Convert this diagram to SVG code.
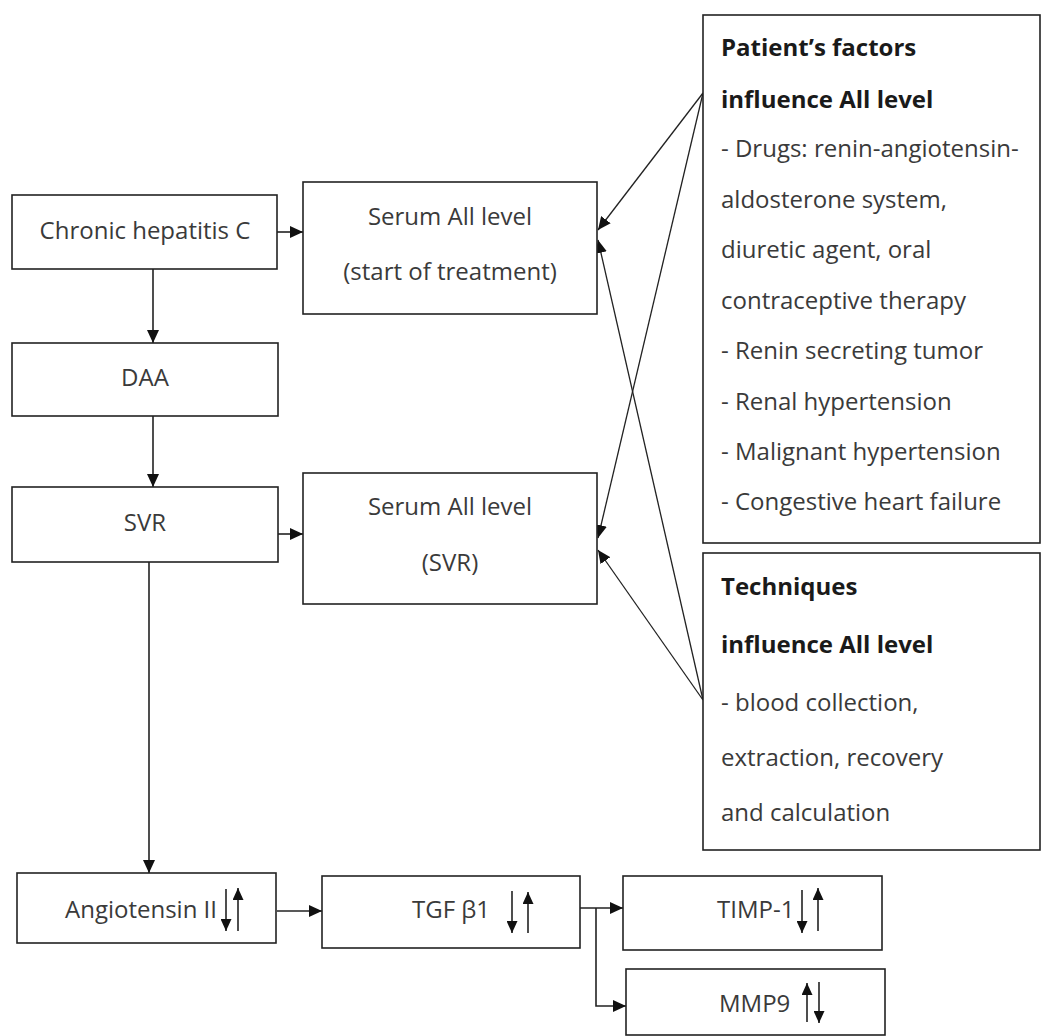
<svg xmlns="http://www.w3.org/2000/svg" width="1043" height="1036" viewBox="0 0 1043 1036">
<defs>
<style>
.box{fill:#fff;stroke:#222;stroke-width:1.6}
.t{font-family:"Open Sans","Noto Sans",sans-serif;font-size:24px;fill:#3a3a3a}
.c{text-anchor:middle}
.b{font-weight:bold;fill:#1a1a1a}
.ln{stroke:#222;stroke-width:1.6;fill:none}
.thin{stroke:#222;stroke-width:1.3;fill:none}
</style>
<marker id="ah" markerUnits="userSpaceOnUse" markerWidth="14" markerHeight="12" refX="13" refY="6" orient="auto">
<path d="M0,0 L13,6 L0,12 Z" fill="#111"/>
</marker>
<marker id="sa" markerUnits="userSpaceOnUse" markerWidth="13" markerHeight="11" refX="12" refY="5.5" orient="auto">
<path d="M0,0 L12,5.5 L0,11 Z" fill="#111"/>
</marker>
</defs>
<rect width="1043" height="1036" fill="#fff"/>

<g id="connectors">
<line class="ln" x1="277" y1="232" x2="303" y2="232" marker-end="url(#ah)"/>
<line class="ln" x1="153" y1="269" x2="153" y2="343" marker-end="url(#ah)"/>
<line class="ln" x1="153" y1="416" x2="153" y2="487" marker-end="url(#ah)"/>
<line class="ln" x1="278" y1="534" x2="303" y2="534" marker-end="url(#ah)"/>
<line class="ln" x1="149" y1="562" x2="149" y2="873" marker-end="url(#ah)"/>
<line class="ln" x1="277" y1="911" x2="322" y2="911" marker-end="url(#ah)"/>
<polyline class="ln" points="580,908 623,908" marker-end="url(#ah)"/>
<polyline class="ln" points="596,908 596,1006 626,1006" marker-end="url(#ah)"/>
<line class="thin" x1="703" y1="93" x2="598" y2="230" marker-end="url(#ah)"/>
<line class="thin" x1="703" y1="93" x2="598" y2="538" marker-end="url(#ah)"/>
<line class="thin" x1="703" y1="700" x2="598" y2="240" marker-end="url(#ah)"/>
<line class="thin" x1="703" y1="700" x2="598" y2="550" marker-end="url(#ah)"/>
</g>

<g id="node-chc">
<rect class="box" x="12" y="195" width="265" height="74"/>
<text class="t c" x="145" y="239">Chronic hepatitis C</text>
</g>
<g id="node-daa">
<rect class="box" x="12" y="343" width="266" height="73"/>
<text class="t c" x="145" y="386">DAA</text>
</g>
<g id="node-svr">
<rect class="box" x="12" y="487" width="266" height="75"/>
<text class="t c" x="145" y="531">SVR</text>
</g>
<g id="node-serum1">
<rect class="box" x="303" y="182" width="294" height="132"/>
<text class="t c" x="450" y="225">Serum All level</text>
<text class="t c" x="450" y="280">(start of treatment)</text>
</g>
<g id="node-serum2">
<rect class="box" x="303" y="473" width="294" height="131"/>
<text class="t c" x="450" y="515">Serum All level</text>
<text class="t c" x="450" y="571">(SVR)</text>
</g>
<g id="node-patient">
<rect class="box" x="703" y="15" width="337" height="528"/>
<text class="t b" x="721" y="56">Patient’s factors</text>
<text class="t b" x="721" y="108">influence All level</text>
<text class="t" x="721" y="157">- Drugs: renin-angiotensin-</text>
<text class="t" x="721" y="208">aldosterone system,</text>
<text class="t" x="721" y="258">diuretic agent, oral</text>
<text class="t" x="721" y="309">contraceptive therapy</text>
<text class="t" x="721" y="359">- Renin secreting tumor</text>
<text class="t" x="721" y="410">- Renal hypertension</text>
<text class="t" x="721" y="460">- Malignant hypertension</text>
<text class="t" x="721" y="510">- Congestive heart failure</text>
</g>
<g id="node-techniques">
<rect class="box" x="703" y="553" width="337" height="297"/>
<text class="t b" x="721" y="595">Techniques</text>
<text class="t b" x="721" y="653">influence All level</text>
<text class="t" x="721" y="711">- blood collection,</text>
<text class="t" x="721" y="766">extraction, recovery</text>
<text class="t" x="721" y="821">and calculation</text>
</g>
<g id="node-ang">
<rect class="box" x="17" y="873" width="259" height="70"/>
<text class="t" x="65" y="918">Angiotensin II</text>
<line class="ln" x1="226" y1="889" x2="226" y2="931" marker-end="url(#sa)"/>
<line class="ln" x1="238" y1="931" x2="238" y2="888" marker-end="url(#sa)"/>
</g>
<g id="node-tgf">
<rect class="box" x="322" y="876" width="258" height="72"/>
<text class="t" x="412" y="918">TGF β1</text>
<line class="ln" x1="512" y1="891" x2="512" y2="933" marker-end="url(#sa)"/>
<line class="ln" x1="528" y1="933" x2="528" y2="892" marker-end="url(#sa)"/>
</g>
<g id="node-timp">
<rect class="box" x="623" y="876" width="259" height="74"/>
<text class="t" x="717" y="918">TIMP-1</text>
<line class="ln" x1="802" y1="890" x2="802" y2="933" marker-end="url(#sa)"/>
<line class="ln" x1="818" y1="931" x2="818" y2="888" marker-end="url(#sa)"/>
</g>
<g id="node-mmp9">
<rect class="box" x="626" y="969" width="259" height="66"/>
<text class="t" x="719" y="1012">MMP9</text>
<line class="ln" x1="807" y1="1022" x2="807" y2="983" marker-end="url(#sa)"/>
<line class="ln" x1="819" y1="982" x2="819" y2="1023" marker-end="url(#sa)"/>
</g>
</svg>
